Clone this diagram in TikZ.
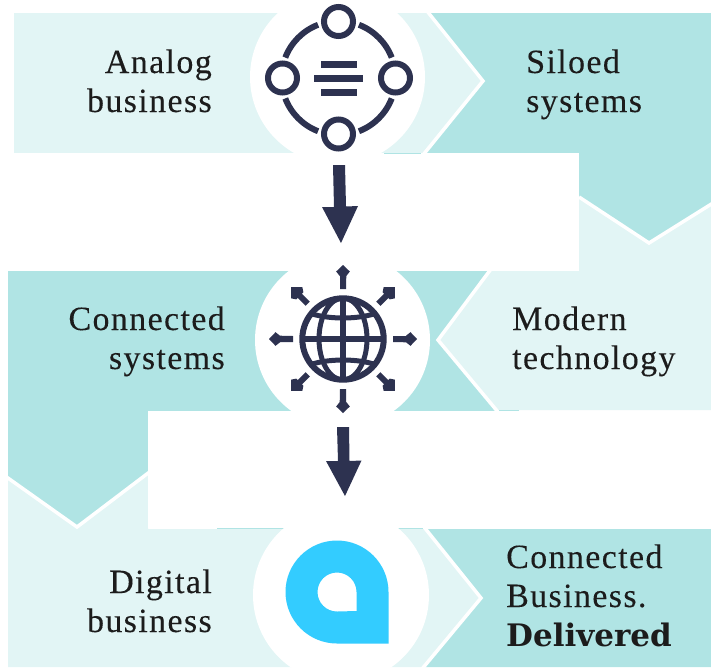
\documentclass[tikz,border=0pt]{standalone}
\usepackage{fontspec}
\setmainfont[LetterSpace=4,FakeBold=0.15]{Liberation Serif}
\newfontfamily\boldface{DejaVu Serif Bold}
\definecolor{lightteal}{HTML}{E2F5F5}
\definecolor{darkteal}{HTML}{B0E4E4}
\definecolor{navy}{HTML}{2D3250}
\definecolor{pinblue}{HTML}{33CCFF}
\definecolor{inkc}{HTML}{1C1C1C}
\tikzset{
  lightfill/.style={fill=lightteal,draw=none},
  darkfill/.style={fill=darkteal,draw=none},
  divider/.style={draw=white,line width=3.5pt,miter limit=10},
  halo/.style={fill=white,draw=none},
  icon/.style={draw=navy,line width=6pt},
  iconfill/.style={fill=navy,draw=none},
  lblr/.style={text=inkc,font=\fontsize{34}{39}\selectfont,align=right,inner sep=0pt,anchor=base east},
  lbll/.style={text=inkc,font=\fontsize{34}{39}\selectfont,align=left,inner sep=0pt,anchor=base west},
}
\begin{document}
\begin{tikzpicture}[x=1pt,y=-1pt]
\useasboundingbox (0,0) rectangle (711,667);
\fill[white] (0,0) rectangle (711,667);
% row 1 and vee
\fill[darkfill] (427,13) -- (711,13) -- (711,205) -- (649,243) -- (579,197) -- (500,153) -- (423,153) -- (483,81) -- cycle;
\fill[lightfill] (14,13) -- (427,13) -- (483,81) -- (423,153) -- (14,153) -- cycle;
\draw[divider] (427,11) -- (483,81) -- (423,155);
% right light panel
\fill[lightfill] (579,197) -- (649,243) -- (711,204) -- (711,410) -- (497,410) -- (438,340) -- (490,271) -- cycle;
% row 2 dark
\fill[darkfill] (8,271) -- (490,271) -- (438,340) -- (497,411) -- (148,411) -- (148,473) -- (77,527) -- (8,478) -- cycle;
\draw[divider] (579,197) -- (649,243) -- (713,203);
\draw[divider] (491,269) -- (438,340) -- (498,412);
% bottom row
\fill[darkfill] (425,529) -- (711,529) -- (711,667) -- (423,667) -- (481,598) -- cycle;
\fill[lightfill] (8,478) -- (77,527) -- (148,473) -- (148,529) -- (425,529) -- (481,598) -- (423,667) -- (8,667) -- cycle;
\draw[divider] (6.5,477) -- (77,527) -- (149.5,472);
\draw[divider] (424,527) -- (481,598) -- (422,669);
% white masks
\fill[white] (0,153) rectangle (579,271);
\fill[white] (148,411) rectangle (711,528);
\fill[white] (0,0) rectangle (711,13);
\fill[white] (0,0) rectangle (8,667);
% thin teal edges
\draw[darkteal,line width=0.8pt] (384,153) -- (421,153);
\draw[darkteal,line width=0.8pt] (499,410.5) -- (519,410.5);
\draw[darkteal,line width=0.8pt] (217,528.5) -- (285,528.5);
\draw[darkteal,line width=0.8pt] (397,528.5) -- (423,528.5);
% halos
\begin{scope}
\clip (0,13) rectangle (711,153);
\fill[halo] (337.5,77) circle[radius=87.5];
\end{scope}
\begin{scope}
\clip (0,271) rectangle (711,411);
\fill[halo] (342.5,340) circle[radius=87.5];
\end{scope}
\begin{scope}
\clip (0,528) rectangle (711,667);
\fill[halo] (341,595) circle[radius=88];
\end{scope}
% icon 1
\begin{scope}[shift={(338.5,78)}]
  \foreach \cx/\cy in {0/-56.5,-56/0,57/0,0/56}{
    \draw[icon] (\cx,\cy) circle[radius=14.5];
  }
  \foreach \a in {0,90,180,270}{
    \draw[icon] ({57*cos(\a+21)},{57*sin(\a+21)}) arc[start angle=\a+21,end angle=\a+69,radius=57];
  }
  \fill[iconfill] (-18,-17.5) rectangle (18,-10.5);
  \fill[iconfill] (-24.5,-3.5) rectangle (24.5,3.5);
  \fill[iconfill] (-18,10.5) rectangle (18,17.5);
\end{scope}
% arrow 1
\fill[iconfill] (333,165) -- (345,165) -- (346,206.5) -- (358,206) -- (341,243) -- (322,207) -- (334,207) -- cycle;
% icon 2
\begin{scope}[shift={(343,339)}]
  \draw[icon] (0,0) circle[radius=40.7];
  \begin{scope}
    \clip (0,0) circle[radius=41];
    \draw[icon,line width=5pt] (0,0) ellipse[x radius=24,y radius=41];
    \draw[icon,line width=5pt] (-36,-27) .. controls (-18,-19) and (18,-19) .. (36,-27);
    \draw[icon,line width=5pt] (-36,27) .. controls (-18,19) and (18,19) .. (36,27);
  \end{scope}
  \draw[icon] (0,-41) -- (0,41);
  \draw[icon,line width=5.5pt] (-41,0) -- (41,0);
  \foreach \r in {0,90,180,270}{
    \begin{scope}[rotate=\r]
      \fill[iconfill] (-3,-50) -- (3,-50) -- (3.3,-63) -- (6.8,-67.5) -- (0,-74) -- (-6.8,-67.5) -- (-3.3,-63) -- (-3,-63) -- cycle;
    \end{scope}
    \begin{scope}[rotate=\r+45]
      \fill[iconfill] (-3,-50) -- (3,-50) -- (3,-61) -- (5,-61) -- (8,-65.5) -- (0,-73.5) -- (-8,-65.5) -- (-5,-61) -- (-3,-61) -- cycle;
    \end{scope}
  }
\end{scope}
% arrow 2
\fill[iconfill] (337,427) -- (349,427) -- (349.5,461) -- (361.5,460.5) -- (345,496) -- (326,461) -- (338,461) -- cycle;
% icon 3
\fill[pinblue,even odd rule]
  (388.5,592) arc[start angle=0,end angle=-270,radius=51.5] -- (388.5,643.5) -- cycle
  (356.5,592) arc[start angle=0,end angle=-270,radius=19.5] -- (356.5,611) -- cycle;
% labels
\node[lblr] (analog) at (212,112) {Analog\\business};
\node[lbll] (siloed) at (526,112) {Siloed\\systems};
\node[lblr] (connected) at (225,369) {Connected\\systems};
\node[lbll] (modern) at (512,369) {Modern\\technology};
\node[lblr] (digital) at (212,632) {Digital\\business};
\node[lbll] (delivered) at (506,646) {Connected\\Business.\\{\boldface\fontsize{31}{39}\selectfont Delivered}};
\end{tikzpicture}
\end{document}
